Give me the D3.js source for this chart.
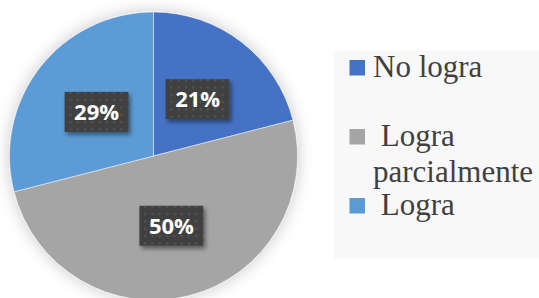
<!DOCTYPE html>
<html>
<head>
<meta charset="utf-8">
<script src="https://d3js.org/d3.v7.min.js"></script>
<style>
  body { margin: 0; background: #fff; }
  svg { display: block; }
  .legend text { font-family: "Liberation Serif", "Times New Roman", serif; font-size: 31px; fill: #404040; white-space: pre; }
  .lbl { font-family: "Open Sans", sans-serif; font-weight: bold; font-size: 22px; fill: #fff; }
</style>
</head>
<body>
<script>
// data
const categories = ['No logra', 'Logra parcialmente', 'Logra'];
const values = [21, 50, 29];
const colors = ['#4472C4', '#A5A5A5', '#5B9BD5'];
// legend text as it wraps in the original box
const legendLines = [['No logra'], [' Logra', 'parcialmente'], [' Logra']];

const width = 539, height = 298;
const cx = 153.5, cy = 156, radius = 144;

const svg = d3.select('body').append('svg')
  .attr('width', width)
  .attr('height', height);

const defs = svg.append('defs');

const pieShadow = defs.append('filter').attr('id', 'pieShadow')
  .attr('x', '-20%').attr('y', '-20%').attr('width', '140%').attr('height', '140%');
pieShadow.append('feDropShadow')
  .attr('dx', 0).attr('dy', 0).attr('stdDeviation', 8)
  .attr('flood-color', '#000').attr('flood-opacity', 0.22);

const boxShadow = defs.append('filter').attr('id', 'boxShadow')
  .attr('x', '-20%').attr('y', '-20%').attr('width', '150%').attr('height', '150%');
boxShadow.append('feDropShadow')
  .attr('dx', 2).attr('dy', 3).attr('stdDeviation', 2)
  .attr('flood-color', '#000').attr('flood-opacity', 0.45);

const dots = defs.append('pattern').attr('id', 'dots')
  .attr('patternUnits', 'userSpaceOnUse')
  .attr('width', 7.3).attr('height', 7.3);
dots.append('rect').attr('width', 7.3).attr('height', 7.3).attr('fill', '#404040');
dots.append('rect').attr('x', 2).attr('y', 2).attr('width', 2).attr('height', 2).attr('fill', '#575757');

const pie = d3.pie().sort(null).value(d => d.value);
const arc = d3.arc().innerRadius(0).outerRadius(radius);
const labelArc = d3.arc().innerRadius(0).outerRadius(radius);

const slices = pie(categories.map((c, i) => ({ key: c, value: values[i] })));
const color = d3.scaleOrdinal().domain(categories).range(colors);

const g = svg.append('g').attr('transform', `translate(${cx},${cy})`);

g.append('g')
  .attr('filter', 'url(#pieShadow)')
  .selectAll('path')
  .data(slices)
  .join('path')
  .attr('d', arc)
  .attr('fill', d => color(d.data.key))
  .attr('stroke', '#fff')
  .attr('stroke-opacity', 0.6)
  .attr('stroke-width', 0.8);

const boxW = 64, boxH = 40;
const labels = g.append('g')
  .selectAll('g')
  .data(slices)
  .join('g')
  .attr('transform', d => `translate(${labelArc.centroid(d)})`);

labels.append('rect')
  .attr('x', -boxW / 2)
  .attr('y', -boxH / 2)
  .attr('width', boxW)
  .attr('height', boxH)
  .attr('fill', 'url(#dots)')
  .attr('filter', 'url(#boxShadow)');

labels.append('text')
  .attr('class', 'lbl')
  .attr('text-anchor', 'middle')
  .attr('dy', '0.36em')
  .text(d => d.data.value + '%');

// legend
const legend = svg.append('g').attr('class', 'legend');
legend.append('rect')
  .attr('x', 334).attr('y', 51)
  .attr('width', 205).attr('height', 208)
  .attr('fill', '#F8F8F8');

const ly = d3.scalePoint().domain(categories).range([77, 215]);

const item = legend.selectAll('g')
  .data(categories)
  .join('g')
  .attr('transform', d => `translate(0,${ly(d)})`);

item.append('rect')
  .attr('x', 349.5)
  .attr('y', -17)
  .attr('width', 15.5)
  .attr('height', 15.5)
  .attr('fill', d => color(d));

item.append('text')
  .attr('x', 373)
  .selectAll('tspan')
  .data((d, i) => legendLines[i])
  .join('tspan')
  .attr('x', 373)
  .attr('y', (d, i) => i * 36)
  .text(d => d);
</script>
</body>
</html>
